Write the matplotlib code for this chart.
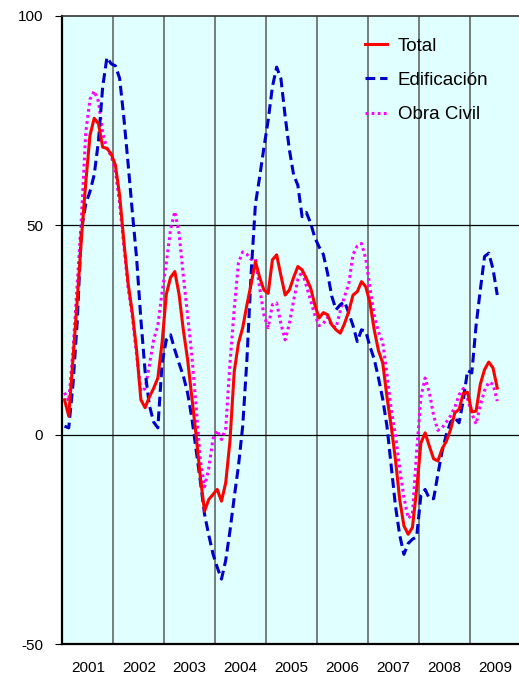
import numpy as np
import matplotlib
matplotlib.use("Agg")
import matplotlib.pyplot as plt

plt.rcParams['font.family'] = ['Liberation Sans', 'DejaVu Sans']
plt.rcParams['axes.unicode_minus'] = False

# Series mensuales ene-2001 .. jul-2009
total = [8.3, 4.4, 18, 32, 47, 60, 71.4, 75.5, 74.2, 68.6, 68.3, 67,
         64.3, 57, 46, 36, 29, 20, 8.3, 6.4, 9, 11, 13.5, 22,
         33.5, 37.5, 38.9, 33.5, 25, 18, 9, 0, -10, -18.3, -15.5, -14.3,
         -13.1, -15.9, -11.5, -1.5, 15, 21.8, 25.5, 31, 36, 41.3, 37.5, 34.5,
         33.7, 41.7, 42.9, 38, 33.3, 34.5, 37.5, 40.1, 39.3, 37.3, 35, 31,
         27.8, 29.1, 28.6, 26.2, 25, 24.2, 26.5, 29.4, 33.3, 34.1, 36.5, 35.3,
         31.4, 25, 20, 17.1, 9, 2, -6, -15.5, -21.8, -23.8, -22.2, -13.1,
         -2, 0.4, -2.8, -5.8, -6.3, -3.4, -1.6, 1.2, 5.2, 6, 9.9, 10.1,
         5.4, 5.6, 12, 15.5, 17.3, 15.9, 11.1]

edificacion = [2, 1.6, 12, 27, 49, 55, 58, 62, 70, 83, 90, 88.5,
               88, 85, 75.5, 64.5, 53, 42, 27.5, 15, 7, 3, 1.6, 17.1,
               22.6, 23.8, 20.2, 17, 14, 10, 4, -3.5, -11, -19, -24, -28.5,
               -31.7, -34.5, -30, -23, -15, -7.5, 2, 18, 38.7, 55, 61.5, 68.5,
               75, 83, 87.7, 85, 76, 68, 62, 59.5, 52, 53, 50.5, 47,
               44.8, 43, 38.5, 33, 29.8, 31, 31.7, 29, 26, 22.2, 25, 24.6,
               21, 18, 13.5, 8.5, 2, -7.5, -17, -24, -28.6, -26, -25, -24.4,
               -14.5, -13.1, -15.3, -15.3, -9.5, -4, 0, 3, 4, 2.8, 8.3, 15.3,
               14.7, 26, 34.5, 42.5, 43.3, 39.5, 33.3]

obra_civil = [10, 8, 20, 36, 52, 72, 80, 82, 79.5, 72, 68.3, 66.5,
              63, 55, 45, 35, 28, 19, 10.3, 11, 16.5, 22.6, 26, 34,
              41, 49, 53.2, 48, 38, 28.5, 19, 7, -6, -12.5, -8, -1,
              1, -1.2, 1.5, 17, 30, 41, 43.6, 43, 41.8, 42, 35, 28.5,
              25.5, 31, 31.4, 26.5, 22.6, 26.5, 32, 37, 39, 35.5, 32, 28.5,
              26, 26.5, 28, 26, 25.5, 29.5, 33, 36, 43, 45, 45.6, 42,
              35, 28.5, 24.5, 22, 14.5, 6, 0, -8, -15, -20, -19, -4,
              9, 13.5, 10, 4.5, 1, 1.6, 3, 4.5, 6.5, 9.5, 11, 8.5,
              5, 2.5, 7, 10.5, 12.5, 12, 8]

years = list(range(2001, 2010))
fechas = 2001 + (np.arange(len(total)) + 0.5) / 12

fig = plt.figure(figsize=(5.19, 6.75), dpi=100)
ax = fig.add_axes([0.1202, 0.0459, 0.8829, 0.931])
ax.set_facecolor('#E0FFFF')

# lineas de separacion de anos y horizontales
for y in years[1:]:
    ax.axvline(y, color='#5a5a5a', lw=1.1, zorder=1)
for h in [0, 50]:
    ax.axhline(h, color='black', lw=0.9, zorder=1)

ax.plot(fechas, total, color='#FF0000', lw=2.2, label='Total', zorder=4)
ax.plot(fechas, edificacion, color='#0000C8', lw=2.2, ls=(0, (3.2, 1.6)),
        label='Edificación', zorder=3)
ax.plot(fechas, obra_civil, color='#FF00FF', lw=2.2, ls=(0, (0.9, 1.1)),
        label='Obra Civil', zorder=2)

ax.set_xlim(2001, 2010)
ax.set_ylim(-50, 100)
ax.set_yticks([-50, 0, 50, 100])
ax.set_xticks([y + 0.5 for y in years])
ax.set_xticklabels([str(y) for y in years])
ax.tick_params(axis='y', length=5, width=0.8, pad=9, labelsize=11, colors='black')
ax.tick_params(axis='x', length=0, pad=12, labelsize=11)

ax.spines['right'].set_visible(False)
ax.spines['left'].set_linewidth(1.6)
ax.spines['bottom'].set_linewidth(1.6)
ax.spines['top'].set_linewidth(1.2)
ax.spines['top'].set_color('#333333')

leg = ax.legend(loc='upper left', bbox_to_anchor=(0.644, 0.977), frameon=False,
                fontsize=13.5, handlelength=1.2, handletextpad=0.55,
                labelspacing=0.92, borderaxespad=0)

fig.savefig('out.png', dpi=100)
